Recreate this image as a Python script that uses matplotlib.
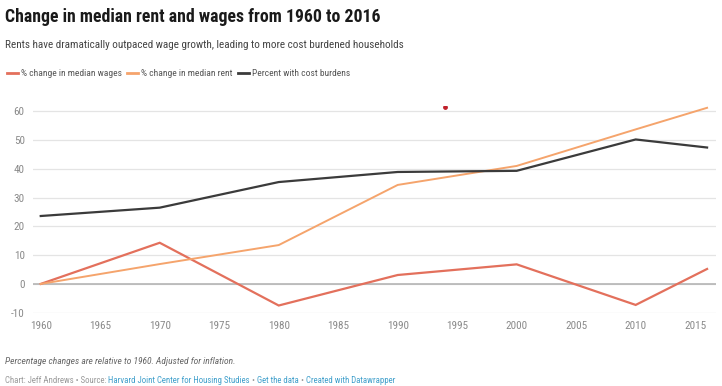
import matplotlib
matplotlib.use('Agg')
import matplotlib.pyplot as plt
from matplotlib import font_manager
from matplotlib.lines import Line2D

# 数据
years = [1960, 1970, 1980, 1990, 2000, 2010, 2016]
wages = [0, 14.3, -7.5, 3.1, 6.8, -7.3, 5.2]
rent = [0, 6.9, 13.5, 34.4, 41.0, 53.7, 61.2]
burden = [23.6, 26.5, 35.4, 38.9, 39.3, 50.2, 47.4]
x_ticks = list(range(1960, 2016, 5))
y_ticks = [-10, 0, 10, 20, 30, 40, 50, 60]
stray_x = [1994]
stray_y = [61.6]

series_names = ['% change in median wages', '% change in median rent', 'Percent with cost burdens']
series_colors = ['#e3705c', '#f5a46c', '#3b3b3b']

# 选一个窄体字体
available = {f.name for f in font_manager.fontManager.ttflist}
narrow = next((f for f in ['Roboto Condensed', 'Liberation Sans Narrow', 'Open Sans Condensed']
               if f in available), 'Roboto')
plt.rcParams['font.family'] = [narrow, 'DejaVu Sans']

W, H = 722, 386
fig = plt.figure(figsize=(W / 100, H / 100), dpi=100)


def fx(px):
    return px / W


def fy(py):
    return 1 - py / H


# 绘图区
ax_left, ax_right = 33, 716
ax_top, ax_bottom = 105.5, 312.7
ax = fig.add_axes([fx(ax_left), fy(ax_bottom), fx(ax_right - ax_left), (ax_bottom - ax_top) / H])

ax.plot(years, wages, color=series_colors[0], lw=1.6, solid_joinstyle='miter', zorder=3)
ax.plot(years, rent, color=series_colors[1], lw=1.4, solid_joinstyle='miter', zorder=3)
ax.plot(years, burden, color=series_colors[2], lw=1.6, solid_joinstyle='miter', zorder=3)
ax.scatter(stray_x, stray_y, s=6, color='#c0202a', zorder=4)

ax.set_xlim(1959.35, 2016.75)
ax.set_ylim(-10, 62)
ax.set_xticks(x_ticks)
ax.set_yticks(y_ticks)
ax.set_yticklabels([str(v) for v in y_ticks])
for s in ax.spines.values():
    s.set_visible(False)
ax.grid(True, axis='y', color='#e4e4e4', lw=0.9)
ax.axhline(0, color='#b5b5b5', lw=1.2, zorder=2)
ax.tick_params(axis='both', length=0, labelsize=8, colors='#8a8a8a')
ax.tick_params(axis='y', pad=6)
ax.tick_params(axis='x', pad=6)
ax.set_axisbelow(True)

# 标题
fig.text(fx(5), fy(17), 'Change in median rent and wages from 1960 to 2016',
         fontsize=12.8, fontweight='bold', color='#1a1a1a', va='center', ha='left')
fig.text(fx(5), fy(45), 'Rents have dramatically outpaced wage growth, leading to more cost burdened households',
         fontsize=8, color='#444444', va='center', ha='left')

# 图例
legend_x = [7, 127, 238]
for lx, name, col in zip(legend_x, series_names, series_colors):
    fig.add_artist(Line2D([fx(lx), fx(lx + 11)], [fy(73), fy(73)], color=col, lw=2))
    fig.text(fx(lx + 14), fy(73), name, fontsize=6.8, color='#555555', va='center', ha='left')

# 脚注
fig.text(fx(5), fy(361.5), 'Percentage changes are relative to 1960. Adjusted for inflation.',
         fontsize=6.8, style='italic', color='#666666', va='center', ha='left')

credit = [('Chart: Jeff Andrews \u2022 Source: ', '#9a9a9a'),
          ('Harvard Joint Center for Housing Studies', '#3f9fcb'),
          (' \u2022 ', '#9a9a9a'),
          ('Get the data', '#3f9fcb'),
          (' \u2022 ', '#9a9a9a'),
          ('Created with Datawrapper', '#3f9fcb')]
fig.canvas.draw()
renderer = fig.canvas.get_renderer()
cx = 5
for txt, col in credit:
    t = fig.text(fx(cx), fy(380.5), txt, fontsize=6.3, color=col, va='center', ha='left')
    cx += t.get_window_extent(renderer).width

plt.savefig('out.png', dpi=100)
